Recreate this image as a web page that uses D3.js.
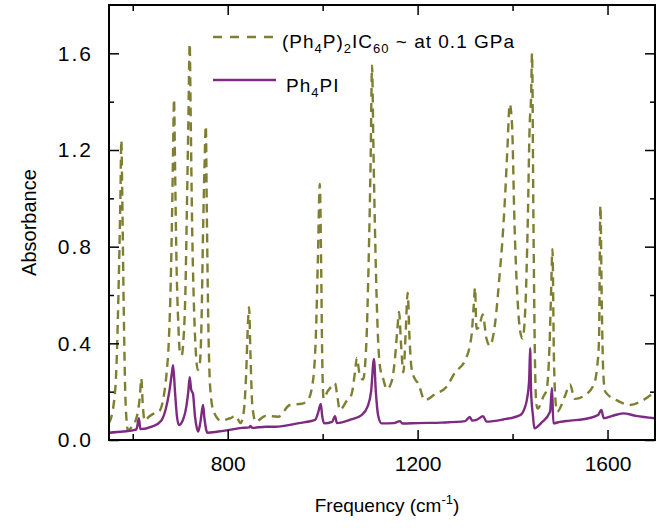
<!DOCTYPE html>
<html>
<head>
<meta charset="utf-8">
<script src="https://cdn.jsdelivr.net/npm/d3@7"></script>
<style>
  body { margin: 0; background: #fff; }
  text { font-family: "Liberation Sans", Arial, Helvetica, sans-serif; fill: #000; }
</style>
</head>
<body>
<div id="chart"></div>
<script>
var width = 662,
  height = 528;

var margin = { left: 109, right: 7, top: 5, bottom: 88 };

// (Ph4P)2IC60 at 0.1 GPa, dashed olive
var freqC60 = [550, 560, 566, 571, 574, 576, 578, 581, 585, 590, 600, 606, 611, 615, 618, 621, 625, 634, 645, 655, 666, 671, 676, 680, 683, 685, 687, 689, 692, 696, 699, 703, 707, 711, 714, 717, 720, 722, 725, 729, 733, 737, 741, 745, 748, 751, 754, 756, 759, 763, 770, 786, 805, 817, 827, 834, 839, 842, 845, 848, 852, 859, 880, 906, 931, 956, 969, 980, 986, 990, 994, 997, 999, 1002, 1010, 1018, 1026, 1031, 1036, 1050, 1061, 1068, 1072, 1078, 1085, 1092, 1097, 1101, 1104, 1107, 1111, 1116, 1121, 1128, 1135, 1145, 1152, 1157, 1161, 1165, 1170, 1175, 1179, 1183, 1187, 1195, 1201, 1215, 1237, 1261, 1279, 1300, 1310, 1314, 1318, 1321, 1324, 1330, 1337, 1345, 1352, 1363, 1373, 1378, 1384, 1389, 1394, 1399, 1404, 1410, 1416, 1421, 1427, 1432, 1436, 1439, 1441, 1444, 1447, 1450, 1453, 1465, 1472, 1478, 1481, 1484, 1487, 1491, 1494, 1510, 1521, 1531, 1556, 1573, 1578, 1582, 1585, 1588, 1591, 1595, 1619, 1647, 1675, 1700];
var absC60 = [0.07, 0.15, 0.32, 0.7, 1.0, 1.24, 1.0, 0.55, 0.15, 0.04, 0.06, 0.08, 0.12, 0.18, 0.255, 0.15, 0.08, 0.096, 0.11, 0.117, 0.19, 0.27, 0.41, 0.65, 0.95, 1.2, 1.41, 1.15, 0.75, 0.48, 0.37, 0.35, 0.42, 0.62, 0.95, 1.3, 1.64, 1.35, 0.9, 0.55, 0.36, 0.29, 0.31, 0.5, 0.85, 1.12, 1.3, 0.95, 0.5, 0.22, 0.12, 0.08, 0.09, 0.1, 0.07, 0.12, 0.28, 0.45, 0.55, 0.35, 0.14, 0.076, 0.1, 0.096, 0.145, 0.15, 0.165, 0.25, 0.45, 0.75, 1.06, 0.7, 0.35, 0.17, 0.2, 0.22, 0.235, 0.18, 0.124, 0.16, 0.19, 0.28, 0.34, 0.27, 0.25, 0.4, 0.75, 1.15, 1.55, 1.2, 0.8, 0.45, 0.3, 0.25, 0.21, 0.24, 0.33, 0.45, 0.53, 0.4, 0.28, 0.45, 0.61, 0.42, 0.3, 0.25, 0.235, 0.165, 0.19, 0.22, 0.28, 0.33, 0.39, 0.44, 0.55, 0.63, 0.46, 0.47, 0.52, 0.42, 0.39, 0.48, 0.69, 0.81, 1.0, 1.2, 1.39, 1.3, 0.9, 0.6, 0.45, 0.42, 0.55, 0.9, 1.3, 1.42, 1.6, 0.9, 0.35, 0.15, 0.13, 0.18, 0.21, 0.4, 0.6, 0.79, 0.35, 0.15, 0.117, 0.18, 0.23, 0.17, 0.19, 0.24, 0.3, 0.41, 0.97, 0.55, 0.28, 0.2, 0.165, 0.145, 0.165, 0.2];

// Ph4PI, solid purple
var freqPI = [550, 580, 600, 608, 613, 616, 640, 660, 669, 677, 682, 685, 689, 693, 697, 705, 713, 717, 720, 723, 727, 731, 735, 738, 743, 748, 751, 755, 757, 780, 798, 830, 845, 848, 852, 880, 900, 950, 984, 990, 996, 999, 1003, 1020, 1026, 1030, 1060, 1082, 1095, 1102, 1108, 1112, 1117, 1124, 1150, 1163, 1168, 1200, 1250, 1300, 1310, 1315, 1324, 1338, 1345, 1380, 1416, 1425, 1430, 1435, 1437, 1439, 1443, 1446, 1460, 1479, 1483, 1486, 1500, 1521, 1560, 1580, 1587, 1592, 1610, 1633, 1660, 1700];
var absPI = [0.03, 0.035, 0.04, 0.045, 0.09, 0.045, 0.055, 0.08, 0.124, 0.2, 0.27, 0.31, 0.2, 0.1, 0.062, 0.08, 0.14, 0.2, 0.26, 0.21, 0.19, 0.1, 0.05, 0.035, 0.08, 0.145, 0.09, 0.04, 0.03, 0.035, 0.04, 0.05, 0.052, 0.058, 0.05, 0.055, 0.055, 0.07, 0.083, 0.11, 0.149, 0.1, 0.069, 0.075, 0.099, 0.07, 0.085, 0.103, 0.14, 0.2, 0.335, 0.2, 0.1, 0.069, 0.07, 0.078, 0.068, 0.07, 0.072, 0.078, 0.095, 0.08, 0.083, 0.099, 0.076, 0.085, 0.103, 0.13, 0.165, 0.25, 0.38, 0.2, 0.1, 0.048, 0.07, 0.117, 0.215, 0.069, 0.075, 0.08, 0.09, 0.103, 0.124, 0.09, 0.1, 0.11, 0.1, 0.09];

var xMajor = [800, 1200, 1600];
var xMinor = [600, 1000, 1400];
var yMajor = [0.0, 0.4, 0.8, 1.2, 1.6];
var yMinor = [0.2, 0.6, 1.0, 1.4];

var olive = "#7f7f33",
  purple = "#7d2a80";

var svg = d3.select("#chart").append("svg")
  .attr("width", width)
  .attr("height", height);

var x = d3.scaleLinear()
  .domain([550, 1700])
  .range([margin.left, width - margin.right]);

var y = d3.scaleLinear()
  .domain([0, 1.8])
  .range([height - margin.bottom, margin.top]);

svg.append("clipPath").attr("id", "clip")
  .append("rect")
  .attr("x", x(550)).attr("y", y(1.8))
  .attr("width", x(1700) - x(550)).attr("height", y(0) - y(1.8));

var line = d3.line()
  .x(function (d) { return x(d[0]) })
  .y(function (d) { return y(d[1]) })
  .curve(d3.curveMonotoneX);

var plot = svg.append("g").attr("clip-path", "url(#clip)");

plot.append("path")
  .datum(d3.zip(freqC60, absC60))
  .attr("d", line)
  .attr("fill", "none")
  .attr("stroke", olive)
  .attr("stroke-width", 2.4)
  .attr("stroke-dasharray", "9,6");

plot.append("path")
  .datum(d3.zip(freqPI, absPI))
  .attr("d", line)
  .attr("fill", "none")
  .attr("stroke", purple)
  .attr("stroke-width", 2.4);

// axes, ticks pointing inward on all four sides
var axBottom = d3.axisBottom(x).tickValues(xMajor).tickSizeInner(-10).tickSizeOuter(0).tickPadding(16).tickFormat(d3.format("d"));
var axBottomMinor = d3.axisBottom(x).tickValues(xMinor).tickSizeInner(-6).tickSizeOuter(0).tickFormat(function () { return "" });
var axTop = d3.axisTop(x).tickValues(xMajor).tickSizeInner(-10).tickSizeOuter(0).tickFormat(function () { return "" });
var axTopMinor = d3.axisTop(x).tickValues(xMinor).tickSizeInner(-6).tickSizeOuter(0).tickFormat(function () { return "" });
var axLeft = d3.axisLeft(y).tickValues(yMajor).tickSizeInner(-10).tickSizeOuter(0).tickPadding(16).tickFormat(d3.format(".1f"));
var axLeftMinor = d3.axisLeft(y).tickValues(yMinor).tickSizeInner(-5).tickSizeOuter(0).tickFormat(function () { return "" });
var axRight = d3.axisRight(y).tickValues(yMajor).tickSizeInner(-10).tickSizeOuter(0).tickFormat(function () { return "" });
var axRightMinor = d3.axisRight(y).tickValues(yMinor).tickSizeInner(-5).tickSizeOuter(0).tickFormat(function () { return "" });

function put(ax, tx, ty) {
  var g = svg.append("g").attr("transform", "translate(" + tx + "," + ty + ")").call(ax);
  g.selectAll("line").attr("stroke", "#000").attr("stroke-width", 1.5);
  g.select(".domain").remove();
  g.selectAll("text").style("font-size", "21px").attr("fill", "#000");
  return g;
}

put(axBottom, 0, y(0));
put(axBottomMinor, 0, y(0));
put(axTop, 0, y(1.8));
put(axTopMinor, 0, y(1.8));
var gl = put(axLeft, x(550), 0);
gl.selectAll("text").attr("letter-spacing", "2px");
put(axLeftMinor, x(550), 0);
put(axRight, x(1700), 0);
put(axRightMinor, x(1700), 0);

svg.append("rect")
  .attr("x", x(550)).attr("y", y(1.8))
  .attr("width", x(1700) - x(550)).attr("height", y(0) - y(1.8))
  .attr("fill", "none")
  .attr("stroke", "#000")
  .attr("stroke-width", 2);

// axis titles
svg.append("text")
  .attr("transform", "translate(36," + ((y(0) + y(1.8)) / 2) + ") rotate(-90)")
  .attr("text-anchor", "middle")
  .style("font-size", "20px")
  .text("Absorbance");

var xt = svg.append("text")
  .attr("x", 387)
  .attr("y", 512)
  .attr("text-anchor", "middle")
  .style("font-size", "19px");
xt.append("tspan").text("Frequency (cm");
xt.append("tspan").attr("dy", -8).style("font-size", "13px").text("-1");
xt.append("tspan").attr("dy", 8).text(")");

// legend
var legend = svg.append("g");
legend.append("line")
  .attr("x1", 213).attr("x2", 276).attr("y1", 37).attr("y2", 37)
  .attr("stroke", olive).attr("stroke-width", 2.4).attr("stroke-dasharray", "9,8");
legend.append("line")
  .attr("x1", 213).attr("x2", 276).attr("y1", 80).attr("y2", 80)
  .attr("stroke", purple).attr("stroke-width", 2.4);

var t1 = legend.append("text").attr("x", 282).attr("y", 48)
  .style("font-size", "19px").attr("letter-spacing", "1px");
t1.append("tspan").text("(Ph");
t1.append("tspan").attr("dy", 5).style("font-size", "13px").text("4");
t1.append("tspan").attr("dy", -5).text("P)");
t1.append("tspan").attr("dy", 5).style("font-size", "13px").text("2");
t1.append("tspan").attr("dy", -5).text("IC");
t1.append("tspan").attr("dy", 5).style("font-size", "13px").text("60");
t1.append("tspan").attr("dy", -5).text(" ~ at 0.1 GPa");

var t2 = legend.append("text").attr("x", 286).attr("y", 92)
  .style("font-size", "19px").attr("letter-spacing", "1px");
t2.append("tspan").text("Ph");
t2.append("tspan").attr("dy", 5).style("font-size", "13px").text("4");
t2.append("tspan").attr("dy", -5).text("PI");
</script>
</body>
</html>
